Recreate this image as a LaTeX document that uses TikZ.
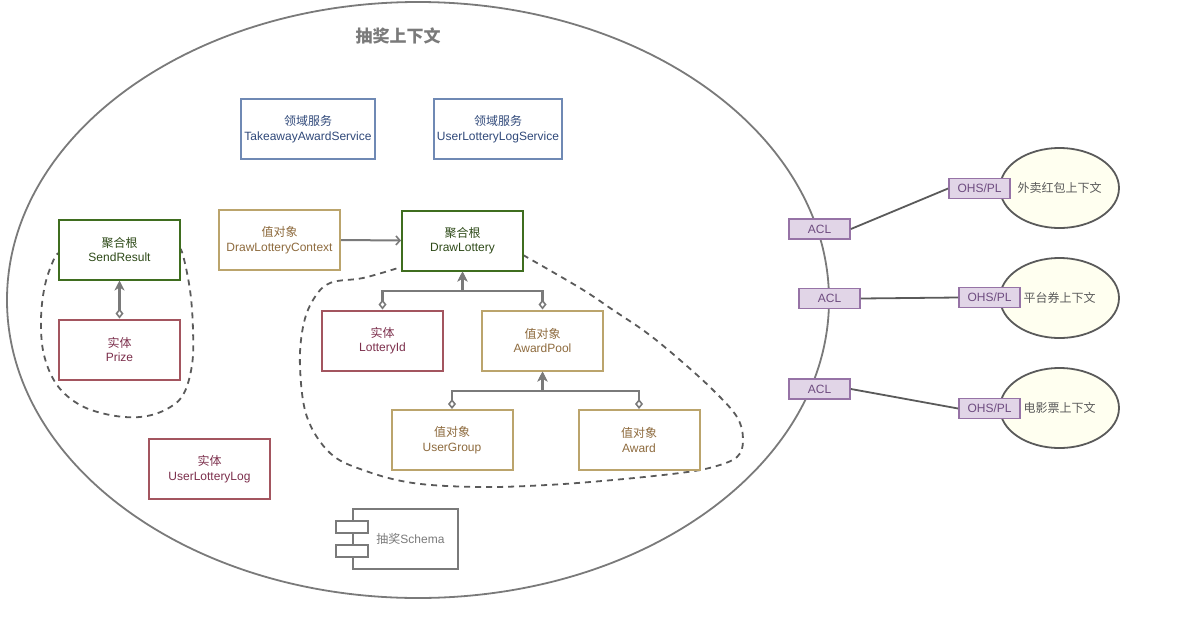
\documentclass[tikz,border=0pt]{standalone}
\usepackage{fontspec}
\setmainfont{Liberation Sans}
\newfontfamily\cjk{Noto Sans CJK SC}
\usepackage{tikz}
\usetikzlibrary{shapes.geometric,arrows.meta,calc}
\definecolor{rootgreen}{HTML}{3F6D1F}
\definecolor{roottext}{HTML}{2E4A18}
\definecolor{entityred}{HTML}{A3555F}
\definecolor{entitytext}{HTML}{7C2F4C}
\definecolor{valuegold}{HTML}{BBA46C}
\definecolor{valuetext}{HTML}{8E6B3E}
\definecolor{serviceblue}{HTML}{6F89B4}
\definecolor{servicetext}{HTML}{30497A}
\definecolor{aclfill}{HTML}{E1D5E7}
\definecolor{acldraw}{HTML}{9673A6}
\definecolor{acltext}{HTML}{6E4C80}
\definecolor{ctxfill}{HTML}{FFFFF0}
\definecolor{linegray}{HTML}{7A7A7A}
\definecolor{darkgray}{HTML}{5A5A5A}

\begin{document}
\begin{tikzpicture}[x=1pt,y=-1pt,
    box/.style={draw, fill=white, line width=2pt, minimum width=121pt,
        minimum height=60pt, inner sep=0pt, align=center,
        font=\fontsize{12}{14.5}\selectfont},
    rootbox/.style={box, draw=rootgreen, text=roottext},
    entitybox/.style={box, draw=entityred, text=entitytext},
    valuebox/.style={box, draw=valuegold, text=valuetext},
    servicebox/.style={box, draw=serviceblue, text=servicetext},
    aclbox/.style={draw=acldraw, fill=aclfill, text=acltext, line width=1.8pt,
        minimum width=61pt, minimum height=20pt, inner sep=0pt,
        font=\fontsize{12}{14}\selectfont},
    ctxell/.style={ellipse, draw=darkgray, fill=ctxfill, line width=1.8pt,
        minimum width=119pt, minimum height=80pt, inner sep=0pt,
        text=darkgray, font=\fontsize{12}{14}\cjk},
    agg/.style={draw=linegray, line width=2.2pt,
        {Diamond[open,length=10pt,width=8pt,line width=1.6pt]}-{Stealth[length=10pt,width=10pt,inset=3pt]}},
    assoc/.style={draw=linegray, line width=2pt,
        -{Straight Barb[length=4pt,width=9pt,line width=1.6pt]}},
    hull/.style={draw=darkgray, line width=1.8pt, dash pattern=on 6pt off 5pt},
    link/.style={draw=darkgray, line width=1.8pt}
]
    \useasboundingbox (0,0) rectangle (1197,619);
    % bounded context
    \draw[linegray, line width=1.8pt] (418,300) ellipse [x radius=411, y radius=298];
    \node[text=linegray, font=\fontsize{17}{20}\cjk\bfseries] (title) at (398,36) {抽奖上下文};

    % aggregate boundaries
    \draw[hull] plot[smooth, tension=0.6] coordinates {(62,252) (55,257) (45,285) (41,320)
        (44,355) (57,385) (80,405) (110,415) (140,417) (165,410) (183,395) (192,365)
        (193,330) (190,290) (182,252) (176,248)};
    \draw[hull] plot[smooth, tension=0.6] coordinates {(523,255) (580,288) (613,310)
        (647,333) (680,360) (713,390) (737,417) (743,440) (737,457) (713,467) (680,473)
        (613,480) (547,485) (480,487) (413,483) (363,470) (330,453) (307,417) (300,367)
        (303,327) (313,300) (330,283) (363,278) (398,268)};

    % domain services
    \node[servicebox, minimum width=134pt] (takeaway) at (308,129) {{\cjk 领域服务}\\TakeawayAwardService};
    \node[servicebox, minimum width=128pt] (logservice) at (498,129) {{\cjk 领域服务}\\UserLotteryLogService};

    % send result aggregate
    \node[rootbox] (sendresult) at (119.5,249.5) {{\cjk 聚合根}\\SendResult};
    \node[entitybox] (prize) at (119.5,349.5) {{\cjk 实体}\\Prize};
    \draw[agg] (prize.north) -- (sendresult.south);

    % draw lottery aggregate
    \node[valuebox] (context) at (279.5,240) {{\cjk 值对象}\\DrawLotteryContext};
    \node[rootbox] (drawlottery) at (462.5,240.5) {{\cjk 聚合根}\\DrawLottery};
    \node[entitybox] (lotteryid) at (382.5,340.5) {{\cjk 实体}\\LotteryId};
    \node[valuebox] (awardpool) at (542.5,340.5) {{\cjk 值对象}\\AwardPool};
    \node[valuebox] (usergroup) at (452,440) {{\cjk 值对象}\\UserGroup};
    \node[valuebox] (award) at (639,440) {{\cjk 值对象}\\Award};
    \draw[assoc] (context.east) -- (drawlottery.west);
    \coordinate (bar1) at (462.5,291);
    \coordinate (bar2) at (542.5,391);
    \draw[agg] (lotteryid.north) |- (bar1) -- (drawlottery.south);
    \draw[agg] (awardpool.north) |- (bar1) -- (drawlottery.south);
    \draw[agg] (usergroup.north) |- (bar2) -- (awardpool.south);
    \draw[agg] (award.north) |- (bar2) -- (awardpool.south);

    \node[entitybox] (userlog) at (209.5,469) {{\cjk 实体}\\UserLotteryLog};

    % schema component
    \node[draw=linegray, line width=1.8pt, fill=white, minimum width=105pt,
        minimum height=60pt] (schema) at (405.5,539) {};
    \node[text=linegray, font=\fontsize{12}{14}\selectfont] (schematext) at (410.5,539) {{\cjk 抽奖}Schema};
    \foreach \y in {527,551} {
        \node[draw=linegray, line width=1.8pt, fill=white, minimum width=32pt,
            minimum height=12pt, inner sep=0pt] at (schema.west |- 0,\y) {};
    }

    % neighbouring contexts
    \node[ctxell] (redpacket) at (1059.5,188) {外卖红包上下文};
    \node[ctxell] (coupon) at (1059.5,298) {平台券上下文};
    \node[ctxell] (movie) at (1059.5,408) {电影票上下文};
    \node[aclbox] (ohs1) at (979.5,188.5) {OHS/PL};
    \node[aclbox] (ohs2) at (989.5,297.5) {OHS/PL};
    \node[aclbox] (ohs3) at (989.5,408.5) {OHS/PL};
    \node[aclbox] (acl1) at (819.5,229) {ACL};
    \node[aclbox] (acl2) at (829.5,298.5) {ACL};
    \node[aclbox] (acl3) at (819.5,389) {ACL};
    \draw[link] (acl1.east) -- (ohs1.west);
    \draw[link] (acl2.east) -- (ohs2.west);
    \draw[link] (acl3.east) -- (ohs3.west);
\end{tikzpicture}
\end{document}
